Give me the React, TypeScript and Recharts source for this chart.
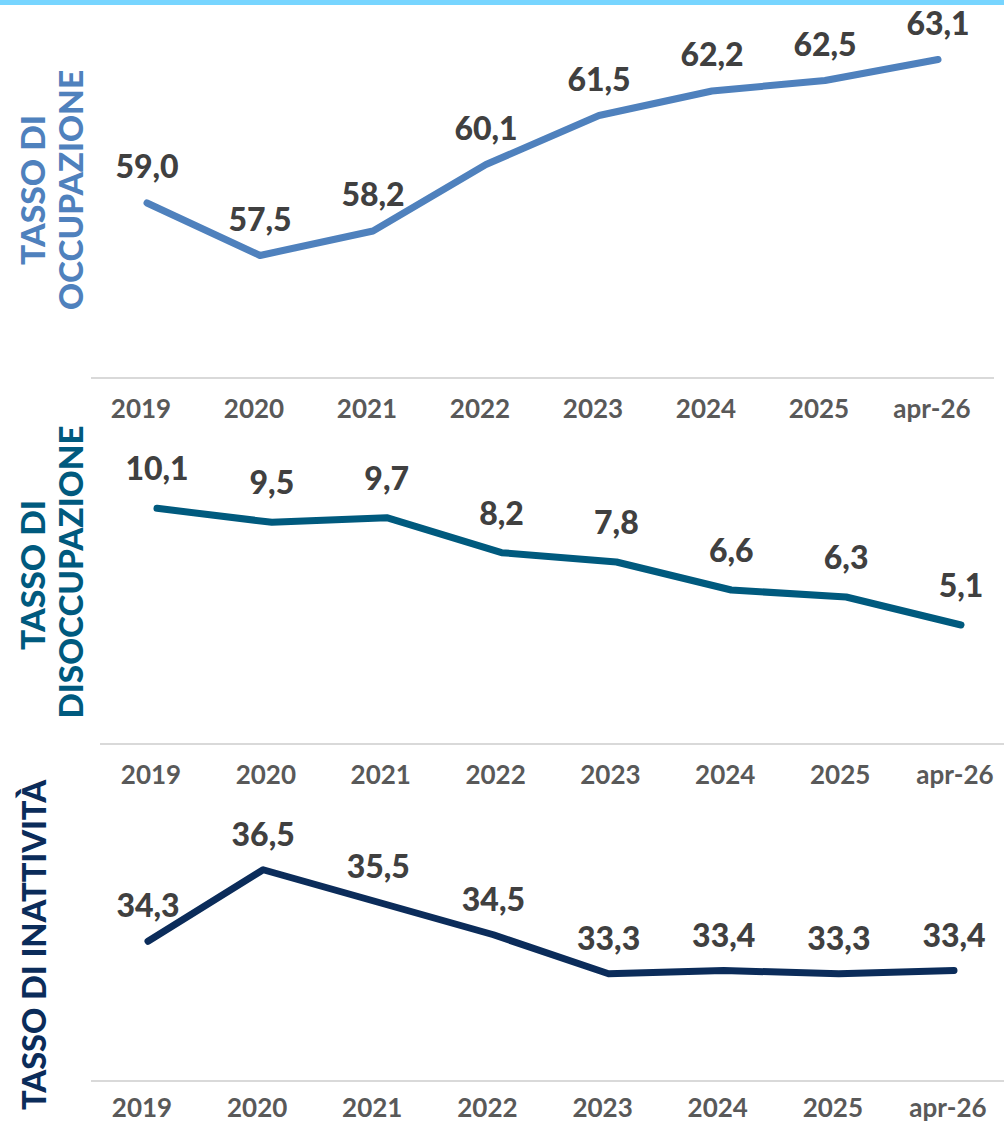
import { LineChart, Line, XAxis, YAxis, LabelList } from 'recharts'

const categories = ['2019', '2020', '2021', '2022', '2023', '2024', '2025', 'apr-26']
const occupazione = [59.0, 57.5, 58.2, 60.1, 61.5, 62.2, 62.5, 63.1]
const disoccupazione = [10.1, 9.5, 9.7, 8.2, 7.8, 6.6, 6.3, 5.1]
const inattivita = [34.3, 36.5, 35.5, 34.5, 33.3, 33.4, 33.3, 33.4]

const FONT = 'Lato, "Noto Sans", sans-serif'

const fmt = (v: any) => Number(v).toFixed(1).replace('.', ',')

function buildRows(values: number[]) {
  return categories.map((c, i) => ({ name: c, value: values[i] }))
}

// rotated axis titles, drawn over the whole page so they can cross panel edges
const titles = [
  { text: 'TASSO DI', color: '#4f81bd', x: 32, y: 190, len: 150 },
  { text: 'OCCUPAZIONE', color: '#4f81bd', x: 70, y: 190, len: 240 },
  { text: 'TASSO DI', color: '#005a7e', x: 32, y: 575, len: 150 },
  { text: 'DISOCCUPAZIONE', color: '#005a7e', x: 70, y: 572, len: 293 },
  { text: 'TASSO DI INATTIVITÀ', color: '#0b2c5a', x: 33, y: 945, len: 330 },
]

function Titles() {
  return (
    <svg width={1004} height={1122} style={{ position: 'absolute', left: 0, top: 0, pointerEvents: 'none' }}>
      {titles.map((t, i) => (
        <text
          key={i}
          x={t.x}
          y={t.y}
          transform={`rotate(-90, ${t.x}, ${t.y})`}
          textAnchor="middle"
          dominantBaseline="central"
          fill={t.color}
          fontFamily={FONT}
          fontWeight={900}
          fontSize={32}
          textLength={t.len}
          lengthAdjust="spacingAndGlyphs"
        >
          {t.text}
        </text>
      ))}
    </svg>
  )
}

interface PanelProps {
  values: number[]
  color: string
  domain: [number, number]
  top: number
  height: number
  width: number
  plotLeft: number
  pad: number
  tickGap: number
  margin: { top: number; right: number; bottom: number }
  labelOffset: number
}

function Panel(p: PanelProps) {
  return (
    <div style={{ position: 'absolute', left: 0, top: p.top, width: p.width, height: p.height }}>
      <LineChart
        width={p.width}
        height={p.height}
        data={buildRows(p.values)}
        margin={{ top: p.margin.top, right: p.margin.right, bottom: p.margin.bottom, left: 0 }}
      >
        <XAxis
          dataKey="name"
          axisLine={{ stroke: '#d9d9d9', strokeWidth: 2 }}
          tickLine={false}
          tickMargin={p.tickGap}
          height={50}
          interval={0}
          padding={{ left: p.pad, right: p.pad }}
          tick={{ fill: '#595959', fontSize: 26, fontWeight: 700, fontFamily: FONT, dx: -6 }}
        />
        <YAxis width={p.plotLeft} domain={p.domain} axisLine={false} tickLine={false} tick={false} />
        <Line
          type="linear"
          dataKey="value"
          stroke={p.color}
          strokeWidth={7}
          strokeLinecap="round"
          strokeLinejoin="round"
          dot={false}
          isAnimationActive={false}
        >
          <LabelList
            dataKey="value"
            position="top"
            offset={p.labelOffset}
            formatter={fmt}
            fill="#404040"
            fontSize={32}
            fontWeight={900}
            fontFamily={FONT}
          />
        </Line>
      </LineChart>
    </div>
  )
}

export default function App() {
  return (
    <div style={{ position: 'absolute', left: 0, top: 0, width: 1004, height: 1122, background: '#fff', overflow: 'hidden' }}>
      <div style={{ position: 'absolute', left: 0, top: 0, width: 1004, height: 5, background: '#77d5ff' }} />
      <Panel
        values={occupazione}
        color="#4f81bd"
        domain={[54, 64]}
        top={0}
        height={440}
        width={1004}
        plotLeft={91}
        pad={56}
        tickGap={16}
        margin={{ top: 28, right: 10, bottom: 12 }}
        labelOffset={25}
      />
      <Panel
        values={disoccupazione}
        color="#005a7e"
        domain={[0, 12]}
        top={440}
        height={360}
        width={1018}
        plotLeft={100}
        pad={57}
        tickGap={16}
        margin={{ top: 24, right: 0, bottom: 6 }}
        labelOffset={28}
      />
      <Panel
        values={inattivita}
        color="#0b2c5a"
        domain={[30, 38]}
        top={800}
        height={331}
        width={1011}
        plotLeft={91}
        pad={57}
        tickGap={12}
        margin={{ top: 21, right: 0, bottom: 0 }}
        labelOffset={24}
      />
      <Titles />
    </div>
  )
}
